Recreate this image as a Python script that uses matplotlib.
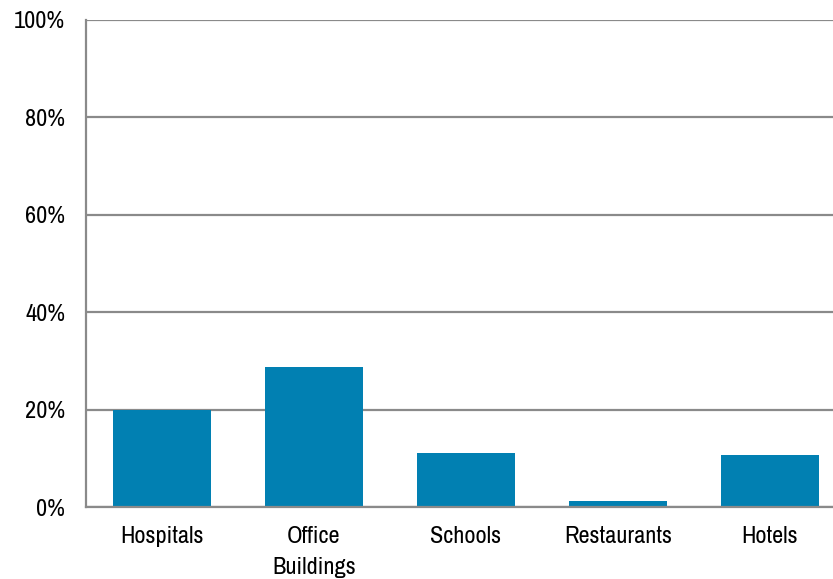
import matplotlib
matplotlib.use("Agg")
import matplotlib.pyplot as plt
from matplotlib import font_manager
from matplotlib.ticker import FuncFormatter

categories = ["Hospitals", "Office\nBuildings", "Schools", "Restaurants", "Hotels"]
values = [20.0, 28.7, 11.1, 1.2, 10.7]
yticks = [0, 20, 40, 60, 80, 100]

# pick an upright, regular condensed font if one is installed
cond = None
for f in font_manager.fontManager.ttflist:
    n = f.name.lower()
    fn = f.fname.lower()
    if ('narrow' in n or 'condensed' in n) and f.style == 'normal' \
            and f.weight in (400, 'normal', 'regular') \
            and 'italic' not in fn and 'bold' not in fn:
        cond = font_manager.FontProperties(fname=f.fname)
        break
if cond is None:
    cond = font_manager.FontProperties(family='DejaVu Sans')

fig = plt.figure(figsize=(8.33, 5.79), dpi=100)
ax = fig.add_axes([86/833, 1-507/579, 760/833, (507-20)/579])

x = list(range(len(categories)))
ax.bar(x, values, width=0.645, color="#0180B2", zorder=3)
ax.set_xlim(-0.5, 4.5)
ax.set_ylim(0, 100)
ax.set_yticks(yticks)
ax.yaxis.set_major_formatter(FuncFormatter(lambda v, p: f"{int(v)}%"))
ax.set_xticks(x)
ax.set_xticklabels(categories, linespacing=1.55)
for lab in ax.get_xticklabels() + ax.get_yticklabels():
    lab.set_fontproperties(cond)
    lab.set_fontsize(17.5)
ax.tick_params(axis='y', length=0, pad=15)
ax.tick_params(axis='x', length=0, pad=14)
ax.grid(axis='y', color="#8a8a8a", linewidth=1.6, zorder=1)
for s in ['top', 'right']:
    ax.spines[s].set_visible(False)
for s in ['left', 'bottom']:
    ax.spines[s].set_color("#8a8a8a")
    ax.spines[s].set_linewidth(1.6)
    ax.spines[s].set_zorder(4)

fig.savefig("out.png", dpi=100)
